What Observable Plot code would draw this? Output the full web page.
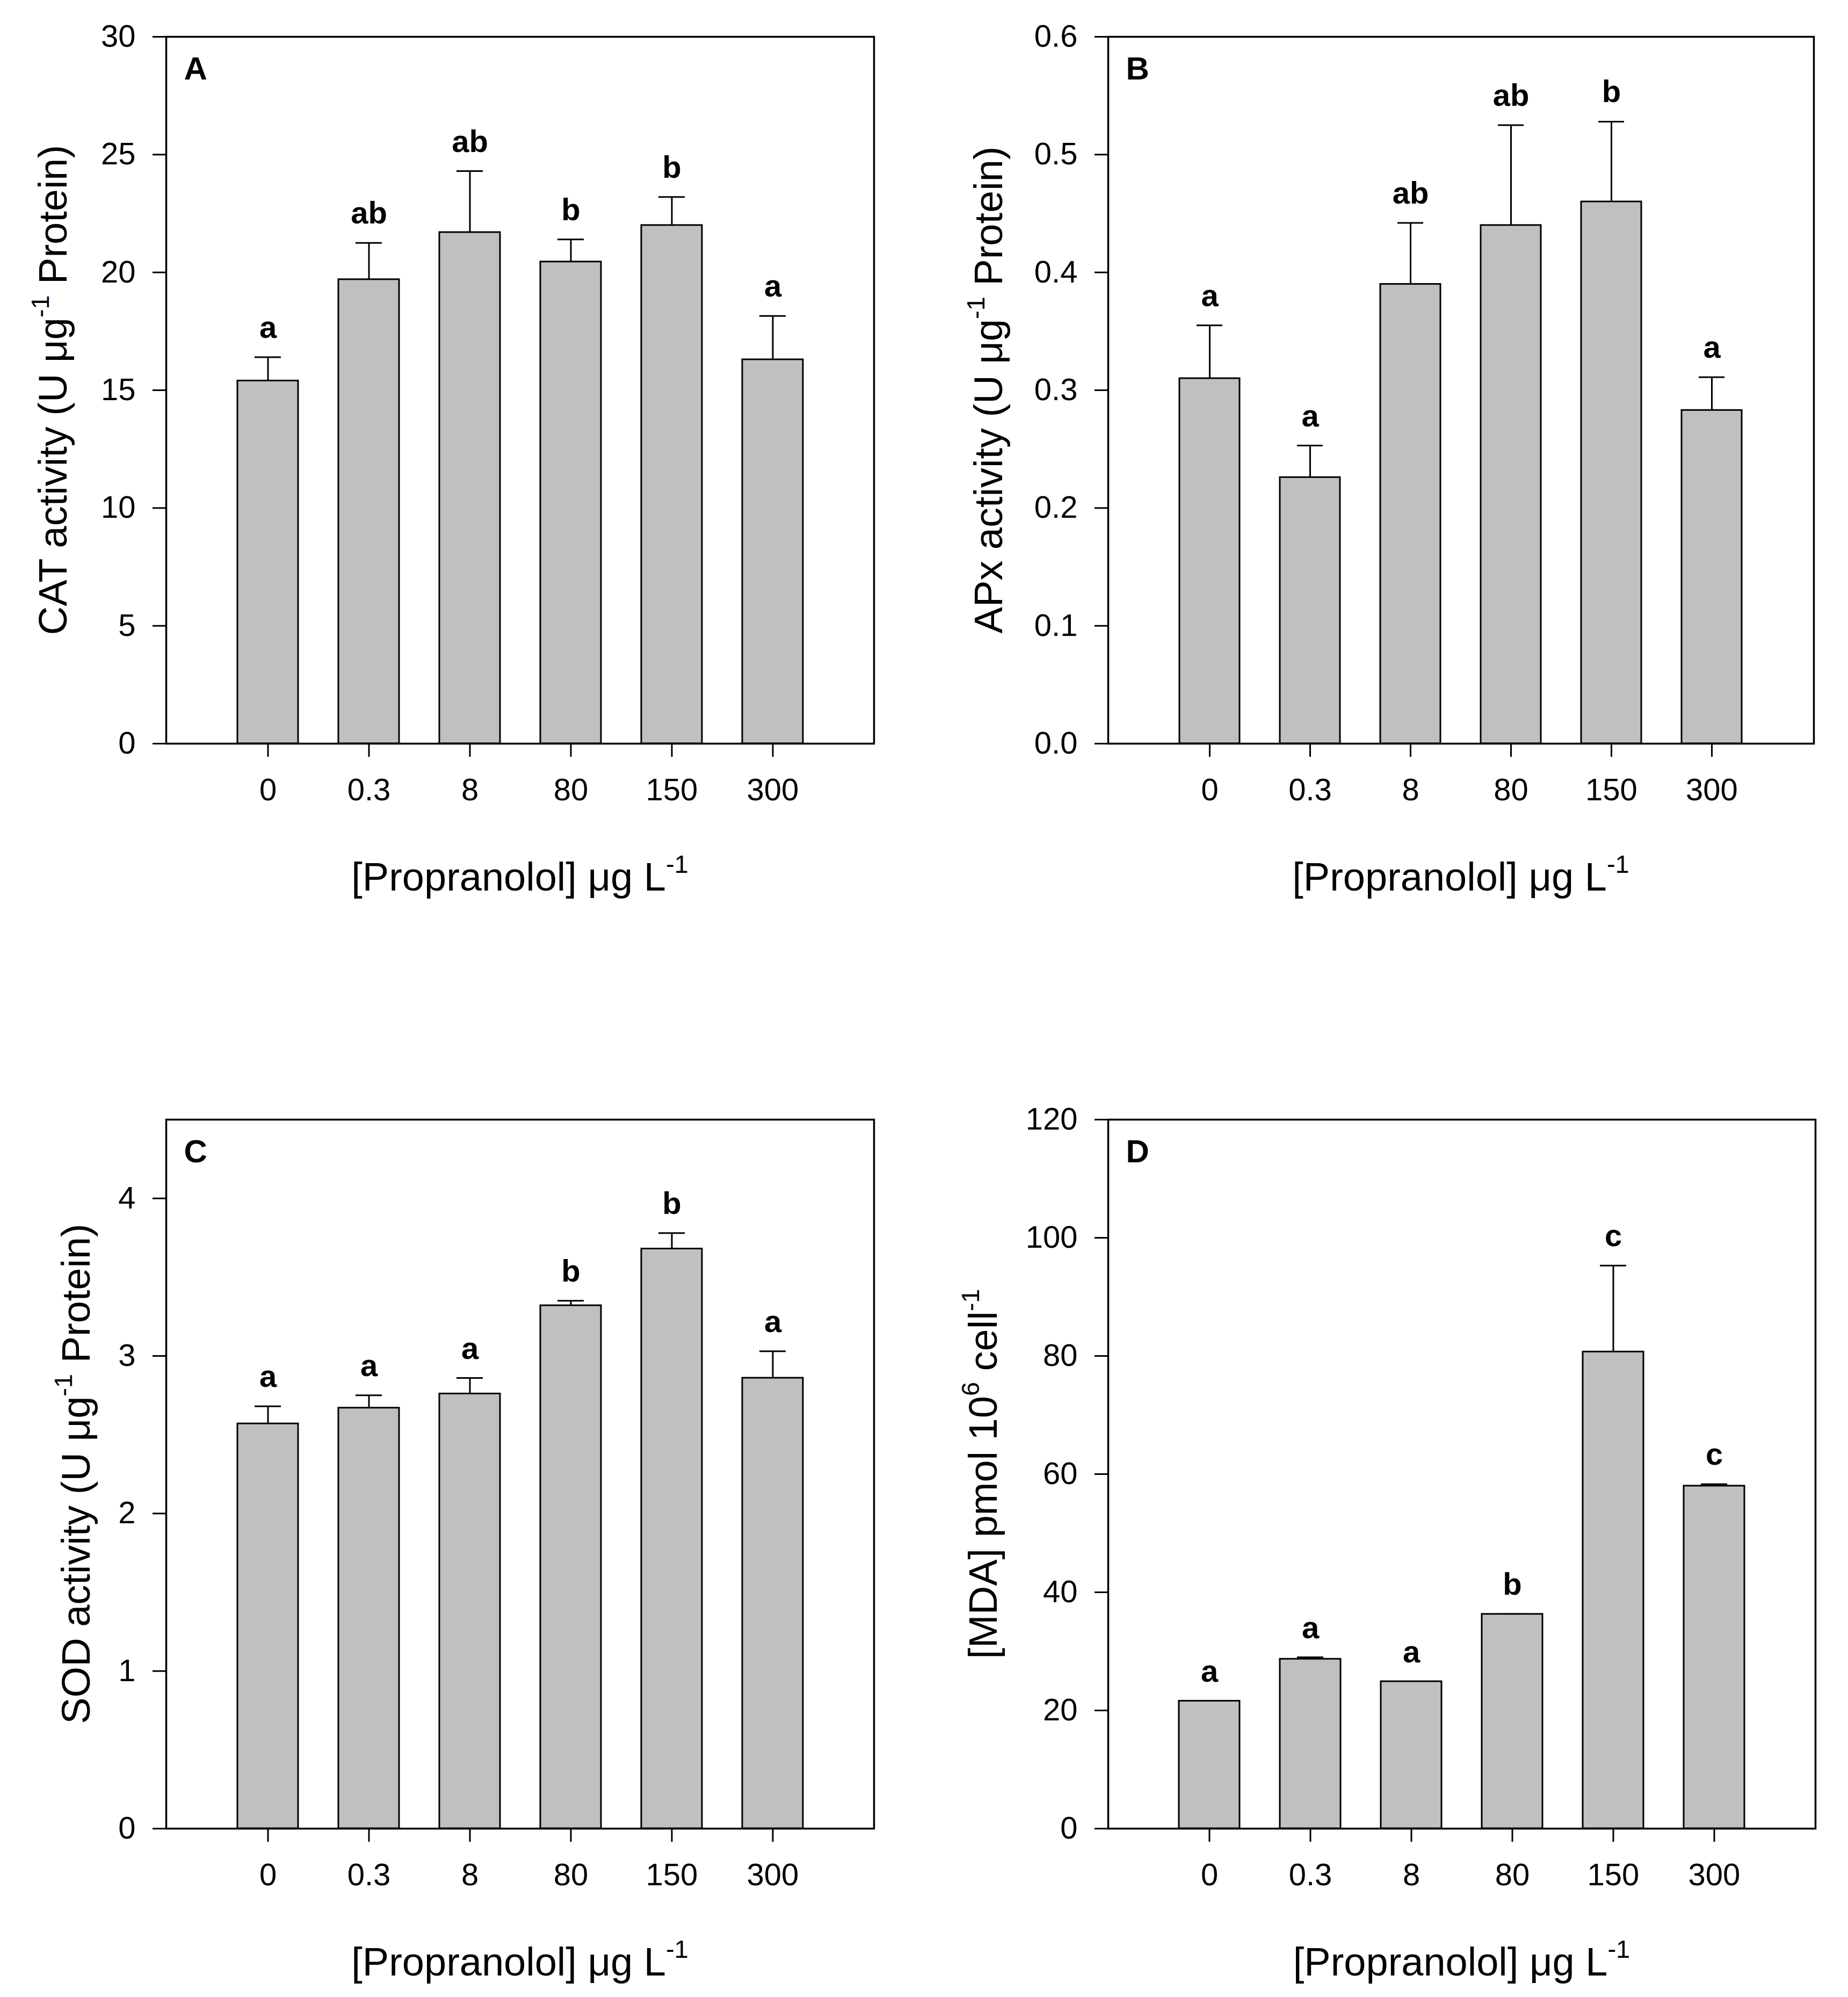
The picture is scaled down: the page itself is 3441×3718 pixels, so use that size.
<!DOCTYPE html>
<html>
<head>
<meta charset="utf-8">
<script src="https://cdn.jsdelivr.net/npm/d3@7"></script>
<script src="https://cdn.jsdelivr.net/npm/@observablehq/plot@0.6"></script>
<style>
  html, body { margin: 0; padding: 0; background: #fff; }
  #fig { position: relative; width: 3441px; height: 3718px; background: #fff; }
  .panel { position: absolute; }
  svg text { white-space: pre; }
</style>
</head>
<body>
<div id="fig"></div>
<script>
// ---------- Data ----------
const concentrations = ["0", "0.3", "8", "80", "150", "300"];

const catMean    = [15.4, 19.7, 21.7, 20.45, 22.0, 16.3];
const catSE      = [1.0, 1.55, 2.6, 0.95, 1.2, 1.85];
const catLetters = ["a", "ab", "ab", "b", "b", "a"];

const apxMean    = [0.310, 0.226, 0.390, 0.440, 0.460, 0.283];
const apxSE      = [0.045, 0.027, 0.052, 0.085, 0.068, 0.028];
const apxLetters = ["a", "a", "ab", "ab", "b", "a"];

const sodMean    = [2.57, 2.67, 2.76, 3.32, 3.68, 2.86];
const sodSE      = [0.11, 0.08, 0.10, 0.03, 0.10, 0.17];
const sodLetters = ["a", "a", "a", "b", "b", "a"];

const mdaMean    = [21.6, 28.7, 24.9, 36.3, 80.7, 58.0];
const mdaSE      = [0, 0.3, 0, 0, 14.6, 0.3];
const mdaLetters = ["a", "a", "a", "b", "c", "c"];

const catTicks = [0, 5, 10, 15, 20, 25, 30];
const apxTicks = [0, 0.1, 0.2, 0.3, 0.4, 0.5, 0.6];
const sodTicks = [0, 1, 2, 3, 4];
const mdaTicks = [0, 20, 40, 60, 80, 100, 120];

const xTitle   = [{t: "[Propranolol] μg L"}, {t: "-1", sup: true}];
const catTitle = [{t: "CAT activity (U μg"}, {t: "-1", sup: true}, {t: " Protein)"}];
const apxTitle = [{t: "APx activity (U μg"}, {t: "-1", sup: true}, {t: " Protein)"}];
const sodTitle = [{t: "SOD activity (U μg"}, {t: "-1", sup: true}, {t: " Protein)"}];
const mdaTitle = [{t: "[MDA] pmol 10"}, {t: "6", sup: true}, {t: " cell"}, {t: "-1", sup: true}];

// ---------- Layout ----------
const FONT = "'Liberation Sans', Arial, Helvetica, sans-serif";

function table(mean, se, letters) {
  return concentrations.map((c, i) => ({conc: c, mean: mean[i], se: se[i], letter: letters[i]}));
}

function addTitle(svg, parts, transform, anchor) {
  const t = svg.append("text")
    .attr("transform", transform)
    .attr("text-anchor", anchor)
    .attr("font-family", FONT)
    .attr("font-size", 74)
    .attr("fill", "black");
  let raised = false;
  parts.forEach(p => {
    const ts = t.append("tspan").text(p.t);
    if (p.sup) {
      ts.attr("font-size", 47).attr("dy", raised ? 0 : -33);
      raised = true;
    } else {
      ts.attr("font-size", 74);
      if (raised) { ts.attr("dy", 33); raised = false; }
    }
  });
}

function panel(cfg) {
  const W = cfg.w, H = cfg.h;
  const fx0 = cfg.frame[0] - cfg.left, fx1 = cfg.frame[1] - cfg.left;
  const fy0 = cfg.frame[2] - cfg.top, fy1 = cfg.frame[3] - cfg.top;
  const data = table(cfg.mean, cfg.se, cfg.letters);
  const plot = Plot.plot({
    width: W,
    height: H,
    marginLeft: fx0,
    marginRight: W - fx1,
    marginTop: fy0,
    marginBottom: H - fy1,
    style: {fontFamily: FONT, fontSize: "58px", background: "white", color: "black", overflow: "visible"},
    x: {type: "band", domain: concentrations, paddingInner: 0.4, paddingOuter: 0.7, align: 0.5},
    y: {domain: [0, cfg.ymax]},
    marks: [
      Plot.ruleX(data, {x: "conc", y1: "mean", y2: d => d.mean + d.se, stroke: "black", strokeWidth: 3}),
      Plot.tickY(data, {x: "conc", y: d => d.mean + d.se, insetLeft: 32, insetRight: 32, stroke: "black", strokeWidth: 3}),
      Plot.barY(data, {x: "conc", y: "mean", fill: "#c0c0c0", stroke: "black", strokeWidth: 3}),
      Plot.text(data, {x: "conc", y: d => d.mean + d.se, text: "letter", dy: -36, lineAnchor: "bottom",
                       fontWeight: "bold", fontSize: 58, fill: "black"}),
      Plot.axisY({ticks: cfg.ticks, tickFormat: cfg.fmt, tickSize: 25, tickPadding: 32, label: null,
                  stroke: "black", strokeWidth: 3, fontSize: 58}),
      Plot.axisX({tickSize: 25, tickPadding: 39, label: null, stroke: "black", strokeWidth: 3, fontSize: 58}),
      Plot.frame({stroke: "black", strokeWidth: 3.5}),
      Plot.text([cfg.tag], {frameAnchor: "top-left", dx: 33, dy: 37, fontWeight: "bold", fontSize: 60, fill: "black"})
    ]
  });
  plot.classList.add("panel");
  plot.style.left = cfg.left + "px";
  plot.style.top = cfg.top + "px";
  const svg = d3.select(plot);
  addTitle(svg, xTitle, `translate(${(fx0 + fx1) / 2},${fy1 + 274})`, "middle");
  addTitle(svg, cfg.yTitle, `translate(${fx0 - cfg.yOff},${(fy0 + fy1) / 2}) rotate(-90)`, "middle");
  document.getElementById("fig").appendChild(plot);
}

const f1 = d3.format(".1f");
const fInt = d3.format("d");

panel({left: 0, top: 0, w: 1720, h: 1859, frame: [309, 1627, 68, 1384],
       mean: catMean, se: catSE, letters: catLetters, ymax: 30, ticks: catTicks, fmt: fInt,
       yTitle: catTitle, yOff: 185, tag: "A"});
panel({left: 1720, top: 0, w: 1721, h: 1859, frame: [2063, 3377, 68, 1384],
       mean: apxMean, se: apxSE, letters: apxLetters, ymax: 0.6, ticks: apxTicks, fmt: f1,
       yTitle: apxTitle, yOff: 197, tag: "B"});
panel({left: 0, top: 1859, w: 1720, h: 1859, frame: [309, 1627, 2084, 3404],
       mean: sodMean, se: sodSE, letters: sodLetters, ymax: 4.5, ticks: sodTicks, fmt: fInt,
       yTitle: sodTitle, yOff: 142, tag: "C"});
panel({left: 1720, top: 1859, w: 1721, h: 1859, frame: [2063, 3380, 2084, 3404],
       mean: mdaMean, se: mdaSE, letters: mdaLetters, ymax: 120, ticks: mdaTicks, fmt: fInt,
       yTitle: mdaTitle, yOff: 207, tag: "D"});
</script>
</body>
</html>
